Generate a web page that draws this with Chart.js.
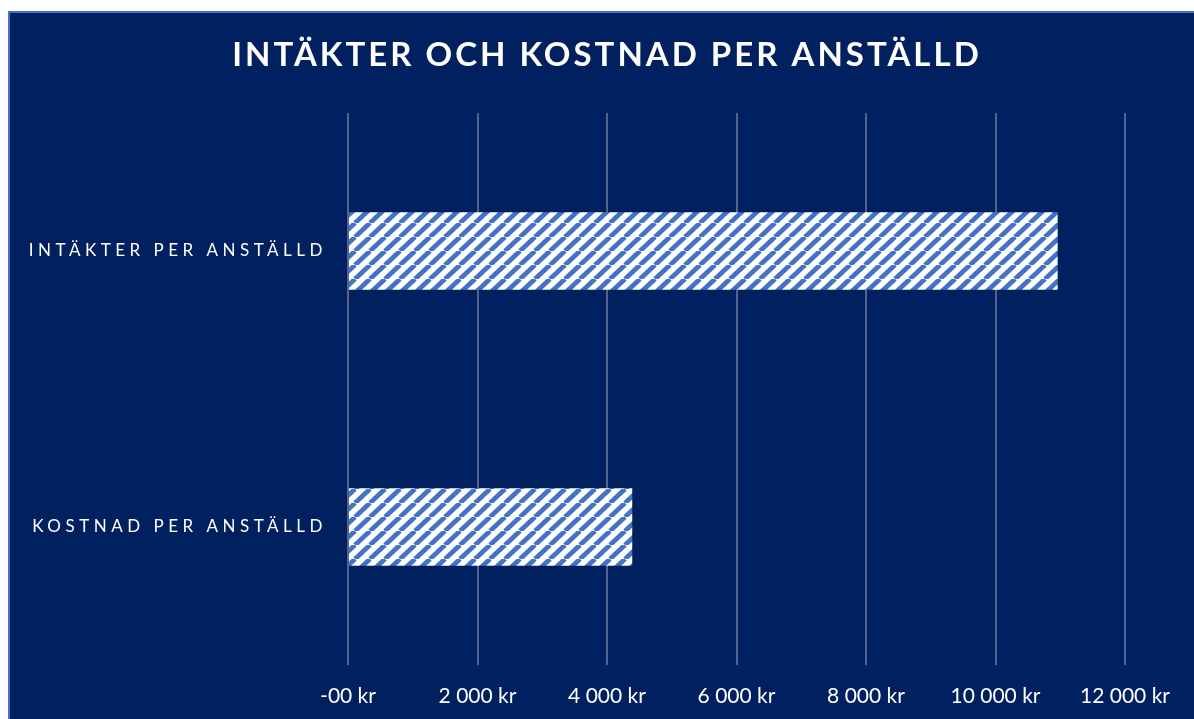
<!DOCTYPE html>
<html lang="sv">
<head>
<meta charset="utf-8">
<title>Intäkter och kostnad per anställd</title>
<script src="https://cdn.jsdelivr.net/npm/chart.js@4.4.1/dist/chart.umd.min.js"></script>
<style>
  html, body { margin: 0; padding: 0; background: #fff; overflow: hidden; }
  #box {
    position: absolute; left: 8px; top: 11px; width: 1186px; height: 708px;
    box-sizing: border-box; background: #002060;
    border-left: 2px solid #4472c4; border-top: 2px solid #4472c4;
  }
  canvas { display: block; }
</style>
</head>
<body>
<div id="box"><canvas id="myChart" width="1184" height="706"></canvas></div>
<script>
  const chartTitle = 'INTÄKTER OCH KOSTNAD PER ANSTÄLLD';
  const categories = ['INTÄKTER PER ANSTÄLLD', 'KOSTNAD PER ANSTÄLLD'];
  const values = [10960, 4390];
  const tickValues = [0, 2000, 4000, 6000, 8000, 10000, 12000];
  const tickLabels = ['-00 kr', '2 000 kr', '4 000 kr', '6 000 kr', '8 000 kr', '10 000 kr', '12 000 kr'];

  // randigt mönster (bred uppåtgående diagonal)
  function stripePattern() {
    const w = 15, h = 14;
    const c = document.createElement('canvas');
    c.width = w; c.height = h;
    const g = c.getContext('2d');
    g.fillStyle = '#ffffff';
    g.fillRect(0, 0, w, h);
    g.strokeStyle = '#4472c4';
    g.lineWidth = 4.8;
    [-w, 0, w].forEach((dx) => {
      g.beginPath();
      g.moveTo(dx, h);
      g.lineTo(dx + w, 0);
      g.stroke();
    });
    return g.createPattern(c, 'repeat');
  }

  // titel och kategorietiketter ritas med spärrad text
  const spacedText = {
    id: 'spacedText',
    afterDraw(chart) {
      const ctx = chart.ctx;
      const yScale = chart.scales.y;
      ctx.save();
      ctx.fillStyle = '#ffffff';
      ctx.textBaseline = 'middle';

      ctx.font = 'bold 33px Lato';
      ctx.letterSpacing = '3px';
      ctx.textAlign = 'center';
      ctx.fillText(chartTitle, 597, 42);

      ctx.font = '17px Lato';
      ctx.letterSpacing = '4.5px';
      ctx.textAlign = 'right';
      categories.forEach((label, i) => {
        ctx.fillText(label, 317, yScale.getPixelForValue(i));
      });
      ctx.restore();
    }
  };

  const ctx = document.getElementById('myChart').getContext('2d');
  new Chart(ctx, {
    type: 'bar',
    data: {
      labels: categories,
      datasets: [{
        data: values,
        backgroundColor: stripePattern(),
        borderWidth: 0,
        barPercentage: 0.28,
        categoryPercentage: 1
      }]
    },
    options: {
      indexAxis: 'y',
      responsive: false,
      animation: false,
      layout: { padding: { top: 100, right: 69, bottom: 0, left: 0 } },
      plugins: {
        legend: { display: false },
        title: { display: false },
        tooltip: { enabled: false }
      },
      scales: {
        x: {
          min: 0,
          max: 12000,
          afterBuildTicks: (scale) => {
            scale.ticks = tickValues.map(v => ({ value: v }));
          },
          afterFit: (scale) => { scale.height = 54; },
          border: { display: false },
          grid: { color: '#52638f', lineWidth: 2, drawTicks: false },
          ticks: {
            padding: 19,
            color: '#ffffff',
            font: { family: 'Lato', size: 21 },
            callback: (value, index) => tickLabels[index]
          }
        },
        y: {
          afterFit: (scale) => { scale.width = 338; },
          border: { display: false },
          grid: { display: false },
          ticks: { display: false }
        }
      }
    },
    plugins: [spacedText]
  });
</script>
</body>
</html>
